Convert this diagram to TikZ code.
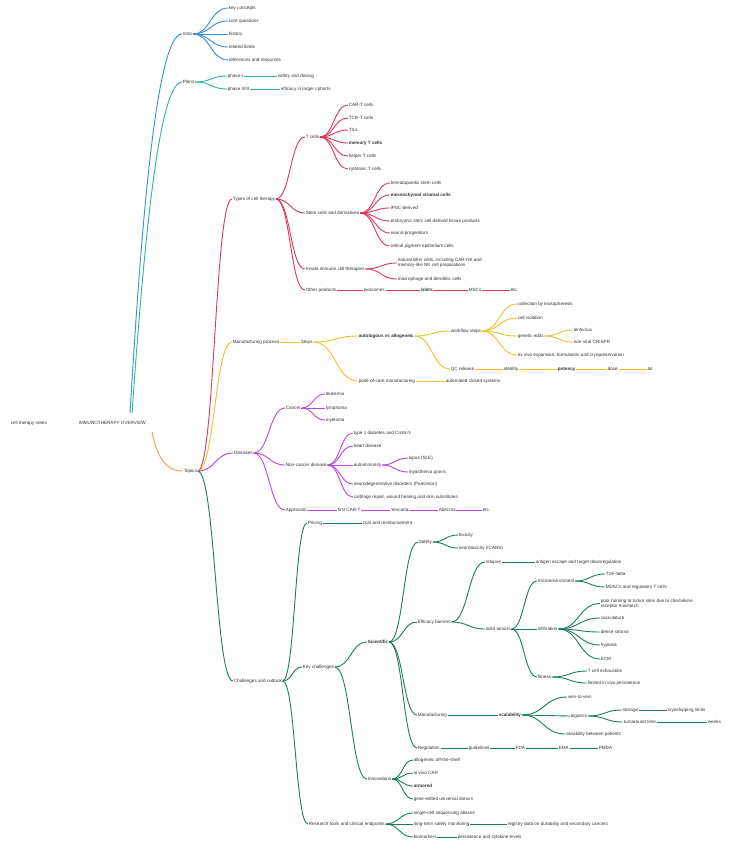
\documentclass[tikz,border=0pt]{standalone}
\usepackage{fontspec}
\setmainfont{Liberation Sans}
\usetikzlibrary{calc}
\definecolor{cblue}{HTML}{3A8ED4}
\definecolor{cteal}{HTML}{2BB3A3}
\definecolor{cred}{HTML}{D83A5A}
\definecolor{corange}{HTML}{F0A050}
\definecolor{cyellow}{HTML}{F0C030}
\definecolor{cpurple}{HTML}{B848D8}
\definecolor{cgreen}{HTML}{1F7A62}
\newcommand\mmlink[3]{\draw[lk,#1] let \p1=(#2), \p2=(#3) in (\p1) .. controls ({0.5*\x1+0.5*\x2},\y1) and ({0.5*\x1+0.5*\x2},\y2) .. (\p2);}
\newcommand\mmfan[3]{\foreach \cc in {#3} {\mmlink{#1}{#2.east}{\cc.west}}}
\newcommand\mmline[3]{\draw[lk,#1] (#2.east) -- (#3.west);}
\begin{document}
\begin{tikzpicture}[x=1pt,y=-1pt,
  t/.style={font=\fontsize{4.6}{5.2}\selectfont, text=black!80, inner sep=0.6pt, anchor=west, align=left},
  tb/.style={t, font=\fontsize{4.6}{5.2}\selectfont\bfseries},
  lk/.style={line width=0.9pt}]
\fill[white] (0,0) rectangle (744,848);
\useasboundingbox (0,0) rectangle (744,848);

% root
\node[t] (root) at (10,423) {cell therapy notes};
\node[t] (main) at (78,423) {IMMUNOTHERAPY OVERVIEW};
\coordinate (mtop) at (130,413);
\coordinate (mtop2) at (132,413);
\coordinate (mbot) at (152,432);

% blue: intro
\node[t] (in) at (182,34) {Intro};
\draw[lk,cblue] (mtop) .. controls +(10,-165) and +(-27,0) .. (in.west);
\node[t] (in1) at (228,8) {key concepts};
\node[t] (in2) at (228,21) {core questions};
\node[t] (in3) at (228,34) {history};
\node[t] (in4) at (228,47) {related fields};
\node[t] (in5) at (228,60) {references and resources};
\mmfan{cblue}{in}{in1,in2,in3,in4,in5}

% teal: plans
\node[t] (pl) at (182,82) {Plans};
\draw[lk,cteal] (mtop2) .. controls +(10,-140) and +(-25,0) .. (pl.west);
\node[t] (pl1) at (227,76) {phase I};
\node[t] (pl1a) at (277,76) {safety and dosing};
\node[t] (pl2) at (227,89) {phase II/III};
\node[t] (pl2a) at (280,89) {efficacy in larger cohorts};
\mmfan{cteal}{pl}{pl1,pl2}
\mmline{cteal}{pl1}{pl1a}
\mmline{cteal}{pl2}{pl2a}

% orange hub
\node[t] (hub) at (183,471) {Topics};
\draw[lk,corange] (mbot) .. controls +(5,24) and +(-18,0) .. (hub.west);

% red
\node[t] (rd) at (232,199) {Types of cell therapy};
\mmlink{cred}{hub.east}{rd.west}
\node[t] (r1) at (305,137) {T cells};
\node[t] (r2) at (305,213) {Stem cells and derivatives};
\node[t] (r3) at (305,269) {Innate immune cell therapies};
\node[t] (r4) at (305,290) {Other products};
\mmfan{cred}{rd}{r1,r2,r3,r4}
\node[t] (r1a) at (348,105) {CAR-T cells};
\node[t] (r1b) at (348,118) {TCR-T cells};
\node[t] (r1c) at (348,130) {TILs};
\node[tb] (r1d) at (348,143) {memory T cells};
\node[t] (r1e) at (348,156) {helper T cells};
\node[t] (r1f) at (348,169) {cytotoxic T cells};
\mmfan{cred}{r1}{r1a,r1b,r1c,r1d,r1e,r1f}
\node[t] (r2a) at (390,183) {hematopoietic stem cells};
\node[tb] (r2b) at (390,195) {mesenchymal stromal cells};
\node[t] (r2c) at (390,208) {iPSC-derived};
\node[t] (r2d) at (390,221) {embryonic stem cell derived tissue products};
\node[t] (r2e) at (390,233) {neural progenitors};
\node[t] (r2f) at (390,246) {retinal pigment epithelium cells};
\mmfan{cred}{r2}{r2a,r2b,r2c,r2d,r2e,r2f}
\node[t] (r3a) at (397,263) {natural killer cells, including CAR-NK and\\memory-like NK cell preparations};
\node[t] (r3b) at (397,279) {macrophage and dendritic cells};
\mmfan{cred}{r3}{r3a,r3b}
\node[t] (r4a) at (363,290) {exosomes};
\node[tb] (r4b) at (420,290) {islets};
\node[t] (r4c) at (468,290) {MSCs};
\node[t] (r4d) at (510,290) {etc.};
\mmline{cred}{r4}{r4a}
\mmline{cred}{r4a}{r4b}
\mmline{cred}{r4b}{r4c}
\mmline{cred}{r4c}{r4d}

% yellow
\node[t] (ye) at (232,342) {Manufacturing process};
\mmlink{cyellow}{hub.east}{ye.west}
\node[t] (ys) at (300,342) {Steps};
\mmline{cyellow}{ye}{ys}
\node[tb] (ya) at (358,336) {autologous vs allogeneic};
\node[t] (yb) at (358,381) {point-of-care manufacturing};
\mmfan{cyellow}{ys}{ya,yb}
\node[t] (ya1) at (450,331) {workflow steps};
\node[t] (ya2) at (450,369) {QC release};
\mmfan{cyellow}{ya}{ya1,ya2}
\node[t] (ya1a) at (517,304) {collection by leukapheresis};
\node[t] (ya1b) at (517,318) {cell isolation};
\node[t] (ya1c) at (517,336) {genetic edits};
\node[t] (ya1d) at (517,355) {ex vivo expansion, formulation and cryopreservation};
\mmfan{cyellow}{ya1}{ya1a,ya1b,ya1c,ya1d}
\node[t] (ya1c1) at (573,330) {lentivirus};
\node[t] (ya1c2) at (573,342) {non-viral CRISPR};
\mmfan{cyellow}{ya1c}{ya1c1,ya1c2}
\node[t] (ya2a) at (503,369) {sterility};
\node[tb] (ya2b) at (557,369) {potency};
\node[t] (ya2c) at (607,369) {dose};
\node[t] (ya2d) at (647,369) {lot};
\mmline{cyellow}{ya2}{ya2a}
\mmline{cyellow}{ya2a}{ya2b}
\mmline{cyellow}{ya2b}{ya2c}
\mmline{cyellow}{ya2c}{ya2d}
\node[t] (yb1) at (445,381) {automated closed systems};
\mmline{cyellow}{yb}{yb1}

% purple
\node[t] (pu) at (233,453) {Diseases};
\mmlink{cpurple}{hub.east}{pu.west}
\node[t] (p1) at (285,408) {Cancer};
\node[t] (p2) at (285,465) {Non-cancer disease};
\node[t] (p3) at (285,510) {Approvals};
\mmfan{cpurple}{pu}{p1,p2,p3}
\node[t] (p1a) at (325,394) {leukemia};
\node[t] (p1b) at (325,408) {lymphoma};
\node[t] (p1c) at (325,420) {myeloma};
\mmfan{cpurple}{p1}{p1a,p1b,p1c}
\node[t] (p2a) at (353,433) {type 1 diabetes and Crohn's};
\node[t] (p2b) at (353,446) {heart disease};
\node[t] (p2c) at (353,465) {autoimmunity};
\node[t] (p2d) at (353,484) {neurodegenerative disorders (Parkinson)};
\node[t] (p2e) at (353,497) {cartilage repair, wound healing and skin substitutes};
\mmfan{cpurple}{p2}{p2a,p2b,p2c,p2d,p2e}
\node[t] (p2c1) at (408,458) {lupus (SLE)};
\node[t] (p2c2) at (408,472) {myasthenia gravis};
\mmfan{cpurple}{p2c}{p2c1,p2c2}
\node[t] (p3a) at (337,510) {first CAR-T};
\node[t] (p3b) at (390,510) {Yescarta};
\node[t] (p3c) at (438,510) {Abecma};
\node[t] (p3d) at (482,510) {etc.};
\mmline{cpurple}{p3}{p3a}
\mmline{cpurple}{p3a}{p3b}
\mmline{cpurple}{p3b}{p3c}
\mmline{cpurple}{p3c}{p3d}

% green
\node[t] (gr) at (233,681) {Challenges and outlook};
\mmlink{cgreen}{hub.east}{gr.west}
\node[t] (g1) at (307,523) {Pricing};
\node[t] (g2) at (302,667) {Key challenges};
\node[t] (g3) at (308,824) {Research tools and clinical endpoints};
\mmfan{cgreen}{gr}{g1,g2,g3}
\node[t] (g1a) at (362,523) {cost and reimbursement};
\mmline{cgreen}{g1}{g1a}
\node[tb] (g21) at (367,642) {Scientific};
\node[t] (g22) at (367,779) {Innovations};
\mmfan{cgreen}{g2}{g21,g22}
\node[t] (g211) at (418,542) {Safety};
\node[t] (g212) at (417,622) {Efficacy barriers};
\node[t] (g213) at (417,715) {Manufacturing};
\node[t] (g214) at (417,748) {Regulation};
\mmfan{cgreen}{g21}{g211,g212,g213,g214}
\node[t] (g211a) at (458,535) {toxicity};
\node[t] (g211b) at (458,548) {neurotoxicity (ICANS)};
\mmfan{cgreen}{g211}{g211a,g211b}
\node[t] (g212a) at (485,562) {relapse};
\node[t] (g212b) at (485,629) {solid tumors};
\mmfan{cgreen}{g212}{g212a,g212b}
\node[t] (g212a1) at (535,562) {antigen escape and target downregulation};
\mmline{cgreen}{g212a}{g212a1}
\node[t] (b1) at (537,581) {microenvironment};
\node[t] (b2) at (537,629) {infiltration};
\node[t] (b3) at (537,677) {fitness};
\mmfan{cgreen}{g212b}{b1,b2,b3}
\node[t] (b1a) at (605,574) {TGF-beta};
\node[t] (b1b) at (605,587) {MDSCs and regulatory T cells};
\mmfan{cgreen}{b1}{b1a,b1b}
\node[t] (b2a) at (600,603.5) {poor homing to tumor sites due to chemokine\\receptor mismatch};
\node[t] (b2b) at (600,618) {vasculature};
\node[t] (b2c) at (600,632) {dense stroma};
\node[t] (b2d) at (600,645) {hypoxia};
\node[t] (b2e) at (600,659) {ECM};
\mmfan{cgreen}{b2}{b2a,b2b,b2c,b2d,b2e}
\node[t] (b3a) at (587,671) {T cell exhaustion};
\node[t] (b3b) at (587,683) {limited in vivo persistence};
\mmfan{cgreen}{b3}{b3a,b3b}
\node[tb] (g213a) at (498,715) {scalability};
\mmline{cgreen}{g213}{g213a}
\node[t] (m1) at (567,697) {vein-to-vein};
\node[t] (m2) at (570,716) {logistics};
\node[t] (m3) at (565,734) {variability between patients};
\mmfan{cgreen}{g213a}{m1,m2,m3}
\node[t] (m2a) at (622,710) {storage};
\node[t] (m2b) at (623,722) {turnaround time};
\mmfan{cgreen}{m2}{m2a,m2b}
\node[t] (m2a1) at (667,710) {cryoshipping limits};
\node[t] (m2b1) at (707,722) {weeks};
\mmline{cgreen}{m2a}{m2a1}
\mmline{cgreen}{m2b}{m2b1}
\node[t] (g214a) at (468,748) {guidelines};
\node[t] (g214b) at (515,748) {FDA};
\node[t] (g214c) at (558,748) {EMA};
\node[t] (g214d) at (598,748) {PMDA};
\mmline{cgreen}{g214}{g214a}
\mmline{cgreen}{g214a}{g214b}
\mmline{cgreen}{g214b}{g214c}
\mmline{cgreen}{g214c}{g214d}
\node[t] (g22a) at (413,760) {allogeneic off-the-shelf};
\node[t] (g22b) at (413,773) {in vivo CAR};
\node[tb] (g22c) at (413,786) {armored};
\node[t] (g22d) at (413,799) {gene-edited universal donors};
\mmfan{cgreen}{g22}{g22a,g22b,g22c,g22d}
\node[t] (g3a) at (413,813) {single-cell sequencing atlases};
\node[t] (g3b) at (413,824) {long-term safety monitoring};
\node[t] (g3c) at (413,837) {biomarkers};
\mmfan{cgreen}{g3}{g3a,g3b,g3c}
\node[t] (g3b1) at (507,824) {registry data on durability and secondary cancers};
\node[t] (g3c1) at (457,837) {persistence and cytokine levels};
\mmline{cgreen}{g3b}{g3b1}
\mmline{cgreen}{g3c}{g3c1}
\end{tikzpicture}
\end{document}
